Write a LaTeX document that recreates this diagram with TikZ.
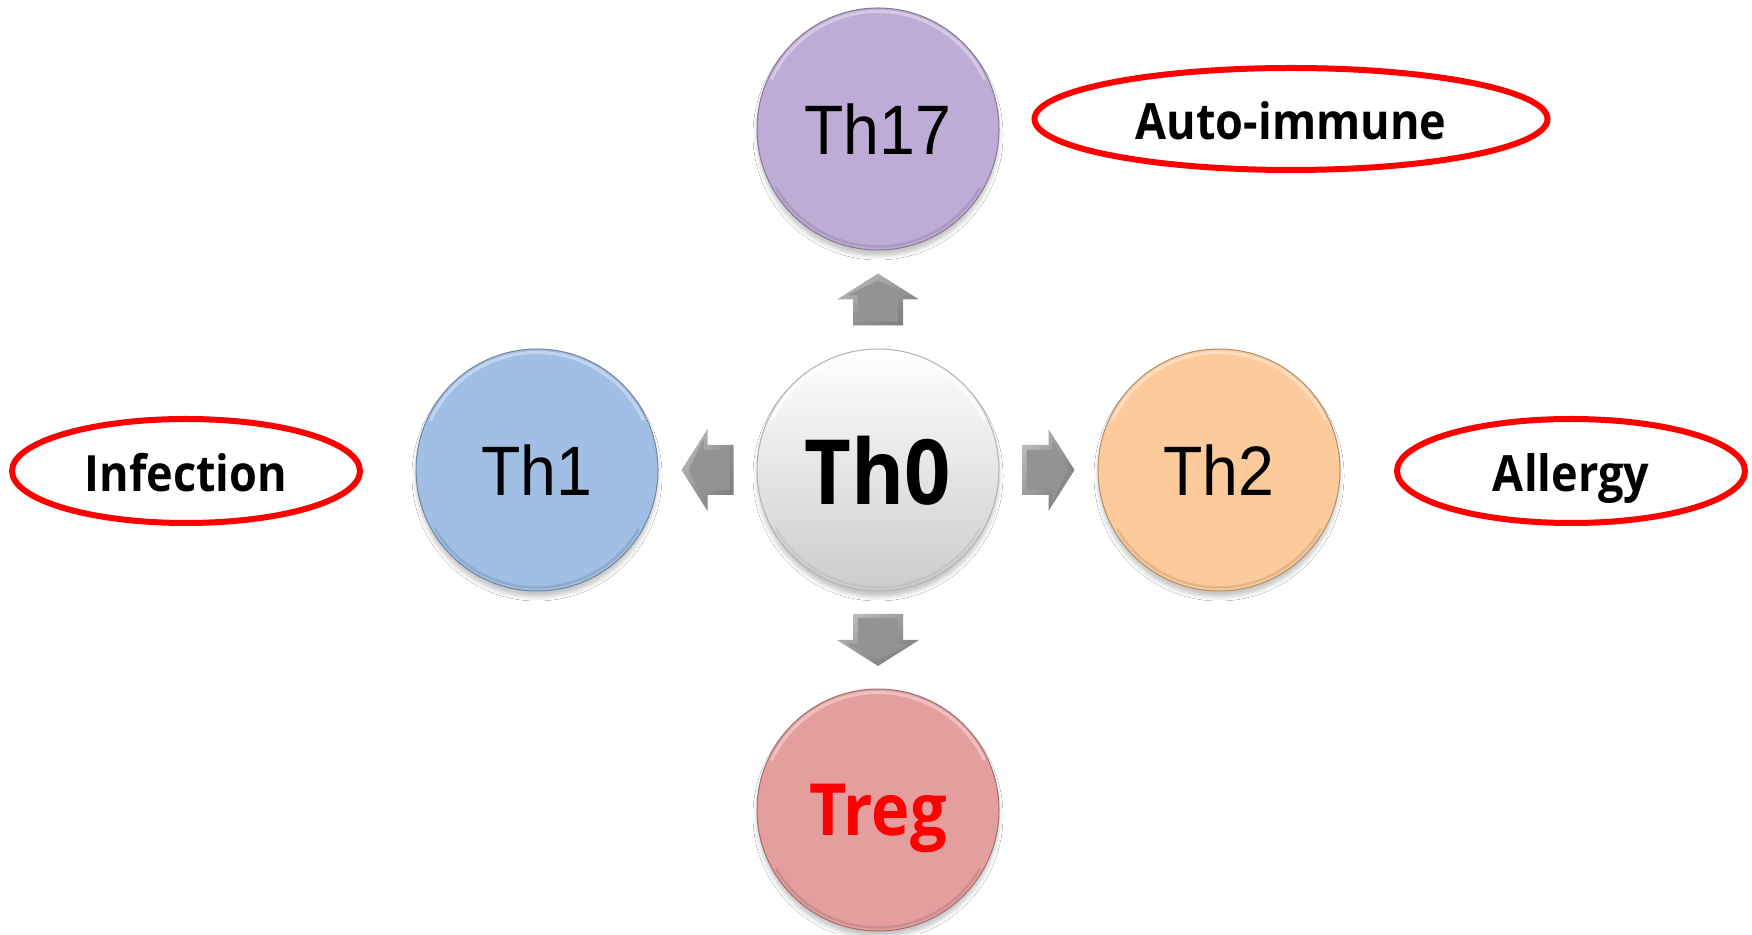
\documentclass[tikz,border=0pt]{standalone}
\usepackage{fontspec}
\setmainfont{Liberation Sans}
\newfontfamily\regf[FakeStretch=0.92]{Liberation Sans}
\newfontfamily\boldf[FakeStretch=0.9]{Open Sans}
\usetikzlibrary{shapes.geometric,shadows.blur,shadings,calc}
\definecolor{cThseventeen}{HTML}{BDACD5}
\definecolor{cThone}{HTML}{A1BEE4}
\definecolor{cThtwo}{HTML}{FDCB9B}
\definecolor{cTreg}{HTML}{E49E9E}
\definecolor{cArrow}{HTML}{939393}
\definecolor{cArrowLight}{HTML}{C8C8C8}
\definecolor{cArrowDark}{HTML}{777777}
\tikzset{
  cell/.style={circle, minimum size=242pt, inner sep=0pt, line width=1pt,
    text depth=0pt,
    blur shadow={shadow xshift=0pt, shadow yshift=-6pt, shadow opacity=22, shadow blur radius=4pt}},
  regtext/.style={font=\regf\fontsize{70}{70}\selectfont},
  boldtext/.style={font=\boldf\bfseries\fontsize{#1}{#1}\selectfont},
  disease/.style={ellipse, draw=red, line width=6pt, inner sep=0pt, text depth=0pt,
    text height=42pt, font=\boldf\bfseries\fontsize{50}{50}\selectfont},
  blockarrow/.pic={
    \shade[upper left=cArrowLight, lower right=cArrowDark, upper right=cArrow, lower left=cArrow]
      (-26,25) -- (0,25) -- (0,41) -- (26,0) -- (0,-41) -- (0,-25) -- (-26,-25) -- cycle;
    \fill[cArrow] (-22,20) -- (4,20) -- (4,31) -- (19,0) -- (4,-31) -- (4,-20) -- (-22,-20) -- cycle;
  }
}
\begin{document}
\begin{tikzpicture}[x=1pt,y=1pt]
\path[use as bounding box, fill=white] (0,0) rectangle (1752,934);

% cells
\node[cell, shading=axis, top color=white, middle color=black!4, bottom color=black!20,
      draw=black!30, boldtext=90] (th0) at (878,464) {Th0};
\node[cell, fill=cThseventeen, draw=cThseventeen!70!black, regtext] (th17) at (878,805) {Th17};
\node[cell, fill=cThone, draw=cThone!70!black, regtext] (th1) at (537,464) {Th1};
\node[cell, fill=cThtwo, draw=cThtwo!70!black, regtext] (th2) at (1219,464) {Th2};
\node[cell, fill=cTreg, draw=cTreg!70!black, boldtext=72, text=red] (treg) at (878,124) {Treg};

% bevel highlights
\foreach \n/\c in {th0/white, th17/cThseventeen, th1/cThone, th2/cThtwo, treg/cTreg}{
  \draw[\c!55!white, line width=3pt, opacity=.8]
    ($(\n.center)+(155:117.5pt)$) arc[start angle=155, end angle=25, radius=117.5pt];
  \draw[\c!70!black, line width=2.5pt, opacity=.35]
    ($(\n.center)+(-150:117.5pt)$) arc[start angle=-150, end angle=-30, radius=117.5pt];
}

% arrows from Th0
\pic (aup) [rotate=90] at ($(th0)!0.5!(th17)$) {blockarrow};
\pic (adown) [rotate=-90] at ($(th0)!0.5!(treg)$) {blockarrow};
\pic (aleft) [rotate=180] at ($(th0)!0.5!(th1)$) {blockarrow};
\pic (aright) at ($(th0)!0.5!(th2)$) {blockarrow};

% diseases
\node[disease, minimum width=513pt, minimum height=102pt] (auto) at (1291,815) {Auto-immune};
\node[disease, minimum width=348pt, minimum height=104pt] (inf) at (186,463) {Infection};
\node[disease, minimum width=348pt, minimum height=104pt] (all) at (1571,463) {Allergy};
\end{tikzpicture}
\end{document}
